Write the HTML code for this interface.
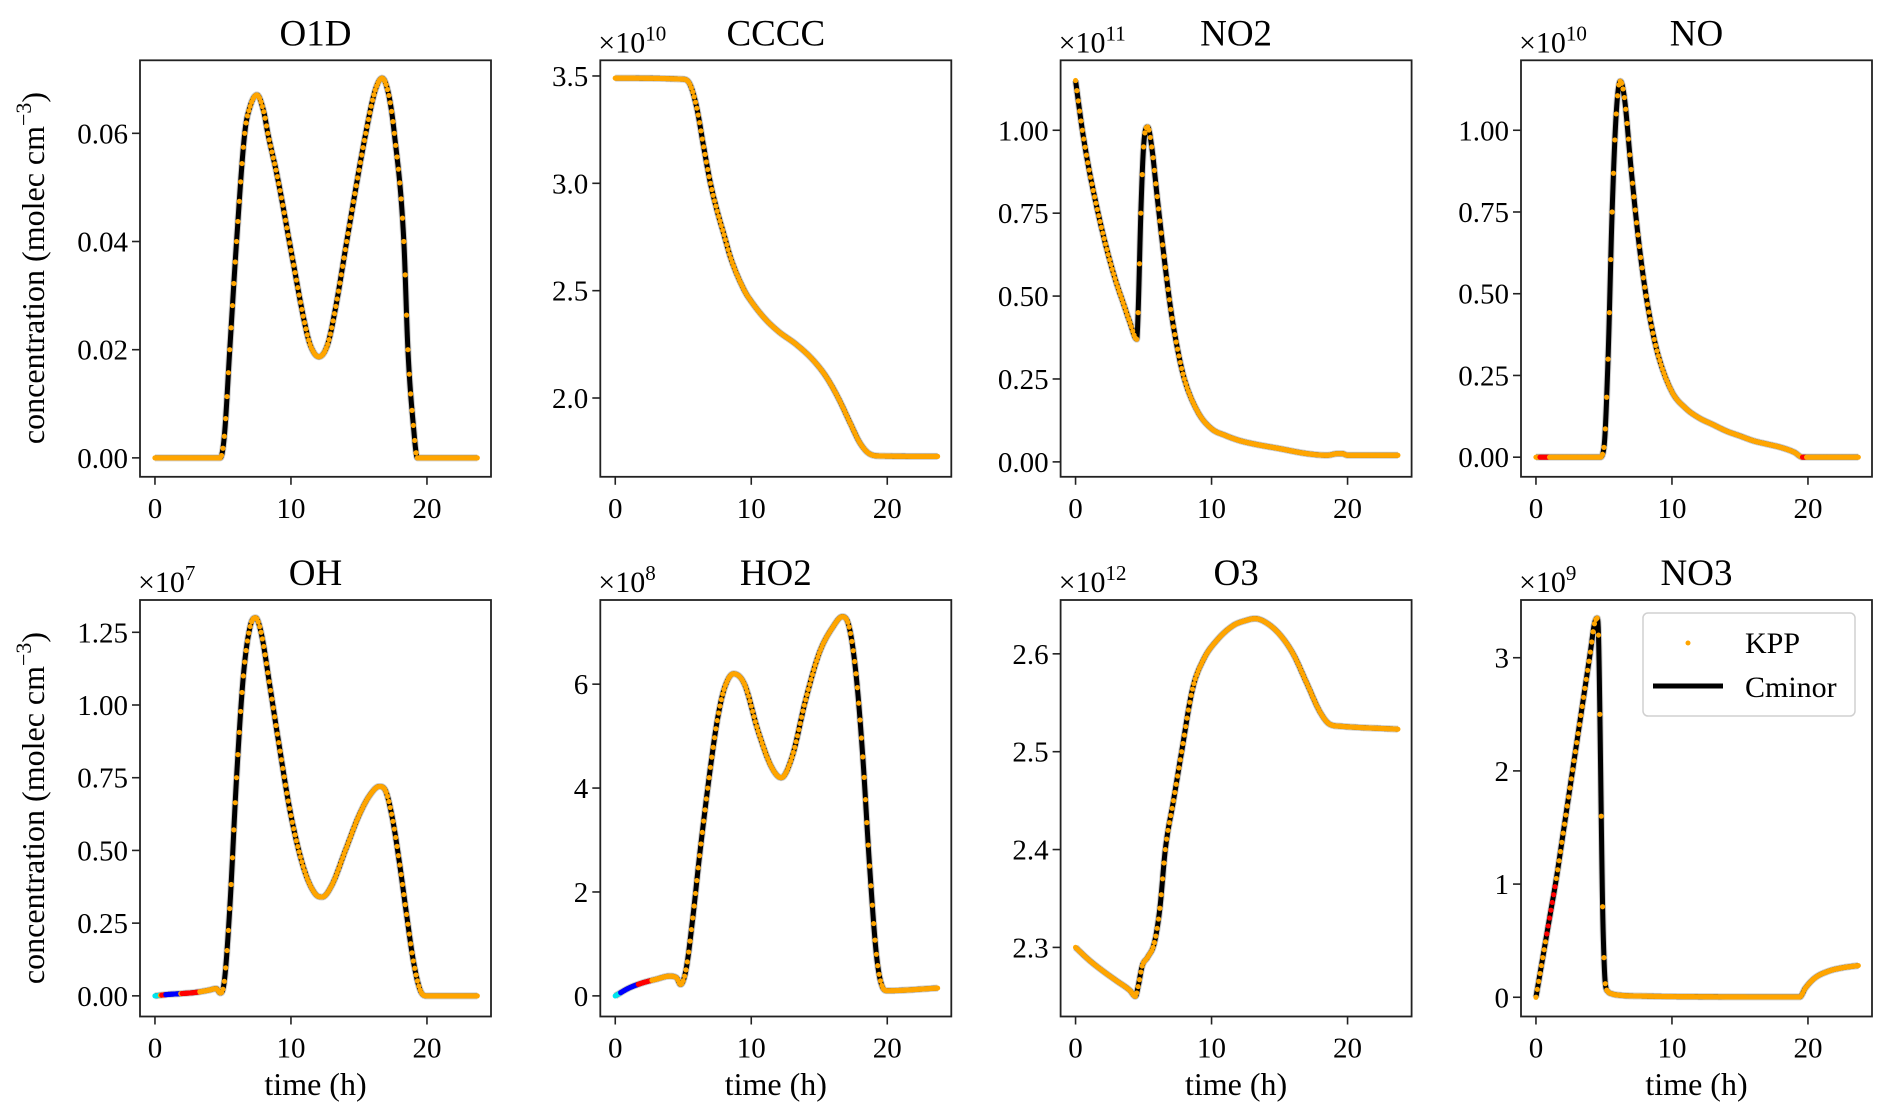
<!DOCTYPE html>
<html><head><meta charset="utf-8">
<style>
html,body{margin:0;padding:0;background:#fff;}
svg{display:block;font-family:"Liberation Serif","DejaVu Serif",serif;}
</style></head>
<body>
<svg id="fig" width="1892" height="1119" viewBox="0 0 1892 1119" xmlns="http://www.w3.org/2000/svg">
<text x="44" y="268" transform="rotate(-90 44 268)" text-anchor="middle" font-size="32">concentration (molec cm<tspan dy="-13" font-size="22">−3</tspan><tspan dy="13">)</tspan></text>
<text x="44" y="808" transform="rotate(-90 44 808)" text-anchor="middle" font-size="32">concentration (molec cm<tspan dy="-13" font-size="22">−3</tspan><tspan dy="13">)</tspan></text>
<g id="legend">
<rect x="1643" y="613" width="212" height="103" rx="5" fill="#fff" fill-opacity="0.85" stroke="#d0d0d0" stroke-width="1.5"/>
<circle cx="1688" cy="643" r="2.5" fill="#ffa500"/>
<text x="1745" y="653" font-size="30">KPP</text>
<line x1="1653" y1="686" x2="1723" y2="686" stroke="#000" stroke-width="5"/>
<text x="1745" y="697" font-size="30">Cminor</text>
</g>
</svg>
<script>
const o1dT=[0,4.8,5.1,5.5,6.0,6.6,7.0,7.5,8.0,8.3,9,10.1,11,11.4,12.05,12.7,13.3,14.1,15.5,16.2,16.7,17.2,17.6,18.3,18.6,19.0,19.3,23.7];
const o1dY=[0,0,0.004,0.02,0.04,0.06,0.065,0.0671,0.064,0.06,0.052,0.037,0.025,0.021,0.0187,0.021,0.028,0.04,0.06,0.068,0.0702,0.067,0.06,0.04,0.02,0.006,0,0];
const ccccT=[0,5,5.5,6,6.5,7,7.5,8,8.5,9.5,10,11,12,13.3,14.5,15.5,16.4,17.3,18,18.7,19.5,23.7];
const ccccY=[3.49,3.485,3.46,3.35,3.17,3.0,2.87,2.76,2.65,2.5,2.45,2.37,2.31,2.25,2.18,2.1,2.0,1.88,1.79,1.74,1.73,1.728];
const no2T=[0,0.5,1,1.5,2,2.5,3,3.5,4,4.5,4.6,4.8,5,5.3,5.6,6,6.5,7,7.5,8,9,10,11,12,13,15,17,18.5,19.3,19.6,20,23.7];
const no2Y=[1.15,1.0,0.88,0.78,0.69,0.61,0.54,0.48,0.42,0.37,0.45,0.75,0.95,1.01,0.95,0.8,0.62,0.46,0.34,0.25,0.15,0.1,0.08,0.065,0.055,0.04,0.025,0.02,0.025,0.025,0.02,0.02];
const noT=[0,4.7,5,5.3,5.6,5.9,6.2,6.5,7,7.5,8,8.5,9,10,11,12,13,14,15,16,17,18,19,19.6,20,23.7];
const noY=[0,0,0.03,0.3,0.75,1.05,1.15,1.1,0.88,0.68,0.52,0.4,0.31,0.2,0.15,0.12,0.1,0.08,0.065,0.05,0.04,0.03,0.015,0,0,0];
const ohT=[0,1,2,3,4,4.5,4.8,5.1,5.5,6,6.5,7,7.4,7.8,8.5,9,10,11,11.8,12.3,13,14,15,15.8,16.5,17,17.5,18,18.5,19,19.5,20,23.7];
const ohY=[0,0.005,0.008,0.012,0.02,0.025,0.01,0.05,0.3,0.75,1.1,1.27,1.3,1.25,1.05,0.9,0.62,0.43,0.35,0.34,0.38,0.5,0.62,0.69,0.72,0.7,0.6,0.45,0.28,0.12,0.02,0,0];
const ho2T=[0,1,2,3,4,4.5,4.8,5.2,5.7,6.2,7,7.5,8,8.7,9.5,10.5,11.5,12.2,13,14,15,16,16.7,17.2,17.7,18.2,18.7,19.2,19.6,20,23.7];
const ho2Y=[0,0.15,0.25,0.32,0.38,0.35,0.22,0.5,1.5,2.7,4.4,5.3,5.9,6.2,6.0,5.1,4.4,4.2,4.6,5.7,6.6,7.1,7.3,7.1,6.2,4.6,2.5,0.8,0.2,0.1,0.15];
const o3T=[0,1,2,3,4,4.4,4.6,4.9,5.3,5.8,6.2,6.6,7.2,7.8,8.6,9.4,10.4,11.6,12.5,13.2,14,15,16,17,18,18.7,19.5,23.7];
const o3Y=[2.30,2.287,2.276,2.266,2.256,2.25,2.26,2.281,2.29,2.305,2.34,2.4,2.45,2.5,2.564,2.594,2.614,2.629,2.634,2.636,2.632,2.62,2.6,2.57,2.54,2.528,2.526,2.523];
const no3T=[0,0.5,1,1.5,2,2.5,3,3.5,4,4.3,4.5,4.6,4.7,4.8,4.9,5.0,5.1,5.3,5.6,6,8,12,16,19.4,19.8,20.5,21.5,22.5,23.7];
const no3Y=[0,0.35,0.7,1.05,1.45,1.85,2.25,2.65,3.05,3.3,3.35,3.2,2.5,1.6,0.8,0.35,0.12,0.05,0.03,0.02,0.01,0.005,0.003,0.003,0.08,0.17,0.23,0.26,0.28];
const xTicks=[0,10,20];
const titles=["O1D","CCCC","NO2","NO","OH","HO2","O3","NO3"];
const exponents=["","10","11","10","7","8","12","9"];
const yTicksO1D=[0,0.02,0.04,0.06], yLabO1D=["0.00","0.02","0.04","0.06"];
const yTicksCCCC=[2.0,2.5,3.0,3.5], yLabCCCC=["2.0","2.5","3.0","3.5"];
const yTicksNO2=[0,0.25,0.5,0.75,1.0], yLabNO2=["0.00","0.25","0.50","0.75","1.00"];
const yTicksNO=[0,0.25,0.5,0.75,1.0], yLabNO=["0.00","0.25","0.50","0.75","1.00"];
const yTicksOH=[0,0.25,0.5,0.75,1.0,1.25], yLabOH=["0.00","0.25","0.50","0.75","1.00","1.25"];
const yTicksHO2=[0,2,4,6], yLabHO2=["0","2","4","6"];
const yTicksO3=[2.3,2.4,2.5,2.6], yLabO3=["2.3","2.4","2.5","2.6"];
const yTicksNO3=[0,1,2,3], yLabNO3=["0","1","2","3"];

const panels=[
 {t:o1dT,y:o1dY,yl:[-0.0035,0.0735],yt:yTicksO1D,ylab:yLabO1D,hl:[]},
 {t:ccccT,y:ccccY,yl:[1.633,3.573],yt:yTicksCCCC,ylab:yLabCCCC,hl:[]},
 {t:no2T,y:no2Y,yl:[-0.045,1.211],yt:yTicksNO2,ylab:yLabNO2,hl:[]},
 {t:noT,y:noY,yl:[-0.06,1.214],yt:yTicksNO,ylab:yLabNO,hl:[[0.3,0.9,"#ff0000"],[19.6,19.8,"#ff0000"]]},
 {t:ohT,y:ohY,yl:[-0.071,1.361],yt:yTicksOH,ylab:yLabOH,hl:[[0,0.35,"#00e5ee"],[0.45,0.75,"#ff0000"],[0.8,1.9,"#0000ff"],[2.0,3.2,"#ff0000"]]},
 {t:ho2T,y:ho2Y,yl:[-0.397,7.62],yt:yTicksHO2,ylab:yLabHO2,hl:[[0,0.35,"#00e5ee"],[0.4,1.6,"#0000ff"],[1.7,2.6,"#ff0000"]]},
 {t:o3T,y:o3Y,yl:[2.2294,2.655],yt:yTicksO3,ylab:yLabO3,hl:[]},
 {t:no3T,y:no3Y,yl:[-0.17,3.51],yt:yTicksNO3,ylab:yLabNO3,hl:[[0.8,1.45,"#ff0000"]]}
];

function monotone(xs,ys){
  const n=xs.length,d=[],m=[];
  for(let i=0;i<n-1;i++)d.push((ys[i+1]-ys[i])/(xs[i+1]-xs[i]));
  m[0]=d[0];m[n-1]=d[n-2];
  for(let i=1;i<n-1;i++){m[i]=(d[i-1]*d[i]<=0)?0:(d[i-1]+d[i])/2;}
  for(let i=0;i<n-1;i++){
    if(d[i]===0){m[i]=0;m[i+1]=0;continue;}
    const a=m[i]/d[i],b=m[i+1]/d[i],s=a*a+b*b;
    if(s>9){const k=3/Math.sqrt(s);m[i]=k*a*d[i];m[i+1]=k*b*d[i];}
  }
  return function(x){
    let i=0;while(i<n-2&&x>xs[i+1])i++;
    const h=xs[i+1]-xs[i],u=(x-xs[i])/h,u2=u*u,u3=u2*u;
    return (2*u3-3*u2+1)*ys[i]+(u3-2*u2+u)*h*m[i]+(-2*u3+3*u2)*ys[i+1]+(u3-u2)*h*m[i+1];
  };
}
const NS="http://www.w3.org/2000/svg";
const svg=document.getElementById('fig');
const legend=document.getElementById('legend');
function mk(tag,attrs,parent){const e=document.createElementNS(NS,tag);for(const k in attrs)e.setAttribute(k,attrs[k]);parent.appendChild(e);return e;}
const colX=[140,600.3,1060.6,1521], rowY=[60.3,600], W=351, H=416.5;
const xMin=-1.1, xPerH=13.6;
panels.forEach((p,i)=>{
  const L=colX[i%4], T=rowY[Math.floor(i/4)], B=T+H;
  const g=mk('g',{},svg);
  
  
  svg.insertBefore(g,legend);
  const xs=t=>L+(t-xMin)*xPerH;
  const ys=v=>B-(v-p.yl[0])/(p.yl[1]-p.yl[0])*H;
  const f=monotone(p.t,p.y);
  const tEnd=p.t[p.t.length-1];
  let d="";
  for(let t=0;t<=tEnd+1e-9;t+=0.02){d+=(d?"L":"M")+xs(t).toFixed(2)+","+ys(f(t)).toFixed(2);}
  const halo=mk('path',{d:d,fill:"none",stroke:"#cfcfcf","stroke-width":7,"stroke-linejoin":"round"},g);
  
  
  const line=mk('path',{d:d,fill:"none",stroke:"#000","stroke-width":5,"stroke-linejoin":"round"},g);
  
  
  const dots=mk('g',{fill:"#ffa500"},g);
  
  
  for(let k=0;k*0.1<=tEnd+1e-9;k++){
    const t=k*0.1;
    let col="#ffa500";
    p.hl.forEach(h=>{if(t>=h[0]&&t<=h[1])col=h[2];});
    const c=mk('circle',{cx:xs(t).toFixed(2),cy:ys(f(t)).toFixed(2),r:2.6,fill:col},dots);
    
    
  }
  const frame=mk('rect',{x:L,y:T,width:W,height:H,fill:"none",stroke:"#222","stroke-width":1.8},g);
  
  
  xTicks.forEach(v=>{
    const tk=mk('line',{x1:xs(v),y1:B,x2:xs(v),y2:B+8,stroke:"#222","stroke-width":1.6},g);
    
    
    const tl=mk('text',{x:xs(v),y:B+41,"text-anchor":"middle","font-size":29},g);
    tl.textContent=String(v);
    
    
  });
  p.yt.forEach((v,j)=>{
    const tk=mk('line',{x1:L-8,y1:ys(v),x2:L,y2:ys(v),stroke:"#222","stroke-width":1.6},g);
    
    
    const tl=mk('text',{x:L-12,y:ys(v)+10,"text-anchor":"end","font-size":29},g);
    tl.textContent=p.ylab[j];
    
    
  });
  const ti=mk('text',{x:L+W/2,y:T-15,"text-anchor":"middle","font-size":37},g);
  ti.textContent=titles[i];
  
  
  if(exponents[i]){
    const ex=mk('text',{x:L-2,y:T-8,"font-size":30},g);
    ex.textContent="×10";
    const sp=mk('tspan',{dy:-12,"font-size":21},ex);
    sp.textContent=exponents[i];
    
    
  }
  if(i>=4){
    const xl=mk('text',{x:L+W/2,y:1095,"text-anchor":"middle","font-size":32},g);
    xl.textContent="time (h)";
    
    
  }
});
</script>
</body></html>
